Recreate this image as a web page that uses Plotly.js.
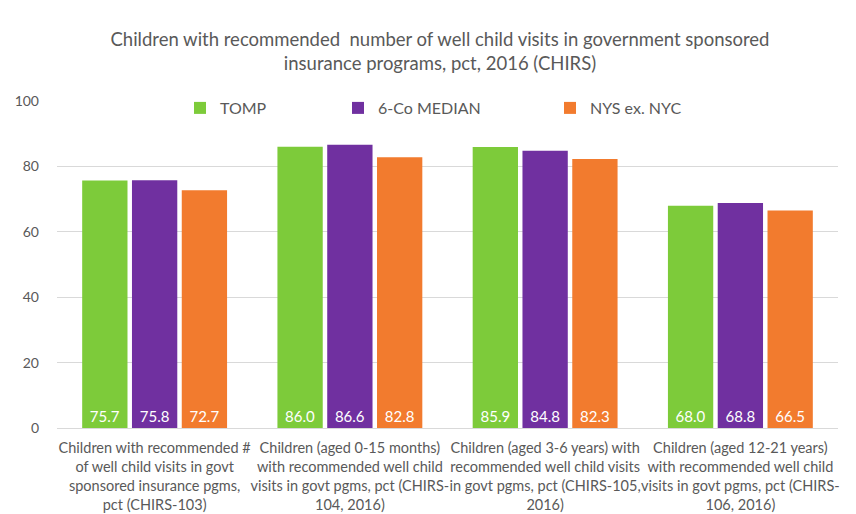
<!DOCTYPE html>
<html>
<head>
<meta charset="utf-8">
<script src="https://cdn.plot.ly/plotly-3.0.1.min.js"></script>
<style>html,body{margin:0;padding:0;background:#fff;}#chart{width:856px;height:514px;}</style>
</head>
<body>
<div id="chart"></div>
<script>
var categories = [
  "Children with recommended #<br>of well child visits in govt<br>sponsored insurance pgms,<br>pct (CHIRS-103)",
  "Children (aged 0-15 months)<br>with recommended well child<br>visits in govt pgms, pct (CHIRS-<br>104, 2016)",
  "Children (aged 3-6 years) with<br>recommended well child visits<br>in govt pgms, pct (CHIRS-105,<br>2016)",
  "Children (aged 12-21 years)<br>with recommended well child<br>visits in govt pgms, pct (CHIRS-<br>106, 2016)"
];
var seriesNames = ["TOMP", "6-Co MEDIAN", "NYS ex. NYC"];
var tompValues = [75.7, 86.0, 85.9, 68.0];
var medianValues = [75.8, 86.6, 84.8, 68.8];
var nysValues = [72.7, 82.8, 82.3, 66.5];
var yTickVals = [0, 20, 40, 60, 80, 100];

var colors = ["#7DCB3A", "#7030A0", "#F27B2E"];
var allValues = [tompValues, medianValues, nysValues];
var legendIds = ["legend", "legend2", "legend3"];

var traces = allValues.map(function (vals, i) {
  return {
    type: "bar",
    name: seriesNames[i],
    x: categories,
    y: vals,
    marker: { color: colors[i] },
    texttemplate: "%{y:.1f}",
    textposition: "inside",
    insidetextanchor: "start",
    textangle: 0,
    textfont: { color: "#ffffff", size: 15, family: "Lato, sans-serif" },
    hoverinfo: "none",
    legend: legendIds[i]
  };
});

function legendAt(xpx) {
  return {
    orientation: "h",
    x: xpx / 856, xanchor: "left",
    y: 1 - 108 / 514, yanchor: "middle",
    yref: "container", xref: "container",
    font: { family: "Lato, sans-serif", size: 16, color: "#595959" },
    bgcolor: "rgba(0,0,0,0)",
    itemwidth: 30
  };
}

var layout = {
  width: 856,
  height: 514,
  paper_bgcolor: "#ffffff",
  plot_bgcolor: "#ffffff",
  margin: { l: 57, r: 18, t: 101, b: 86, autoexpand: false },
  title: {
    text: "Children with recommended  number of well child visits in government sponsored<br>insurance programs, pct, 2016 (CHIRS)",
    font: { family: "Lato, sans-serif", size: 18.5, color: "#595959" },
    x: 0.514, xanchor: "center",
    y: 1 - 46 / 514, yanchor: "middle", yref: "container"
  },
  barmode: "group",
  bargap: 0.235,
  bargroupgap: 0.09,
  showlegend: true,
  legend: legendAt(180),
  legend2: legendAt(338),
  legend3: legendAt(550),
  xaxis: {
    tickfont: { family: "Lato, sans-serif", size: 14.5, color: "#595959" },
    showline: true,
    linecolor: "#D9D9D9",
    linewidth: 1,
    ticks: "",
    tickangle: 0,
    ticklabelstandoff: 7,
    automargin: false
  },
  yaxis: {
    range: [0, 100],
    tickvals: yTickVals,
    tickfont: { family: "Lato, sans-serif", size: 14, color: "#595959" },
    showgrid: true,
    gridcolor: "#D9D9D9",
    zeroline: false,
    ticks: "",
    ticklabelstandoff: 17,
    automargin: false
  }
};

Plotly.newPlot("chart", traces, layout, { staticPlot: true, displayModeBar: false });
</script>
</body>
</html>
